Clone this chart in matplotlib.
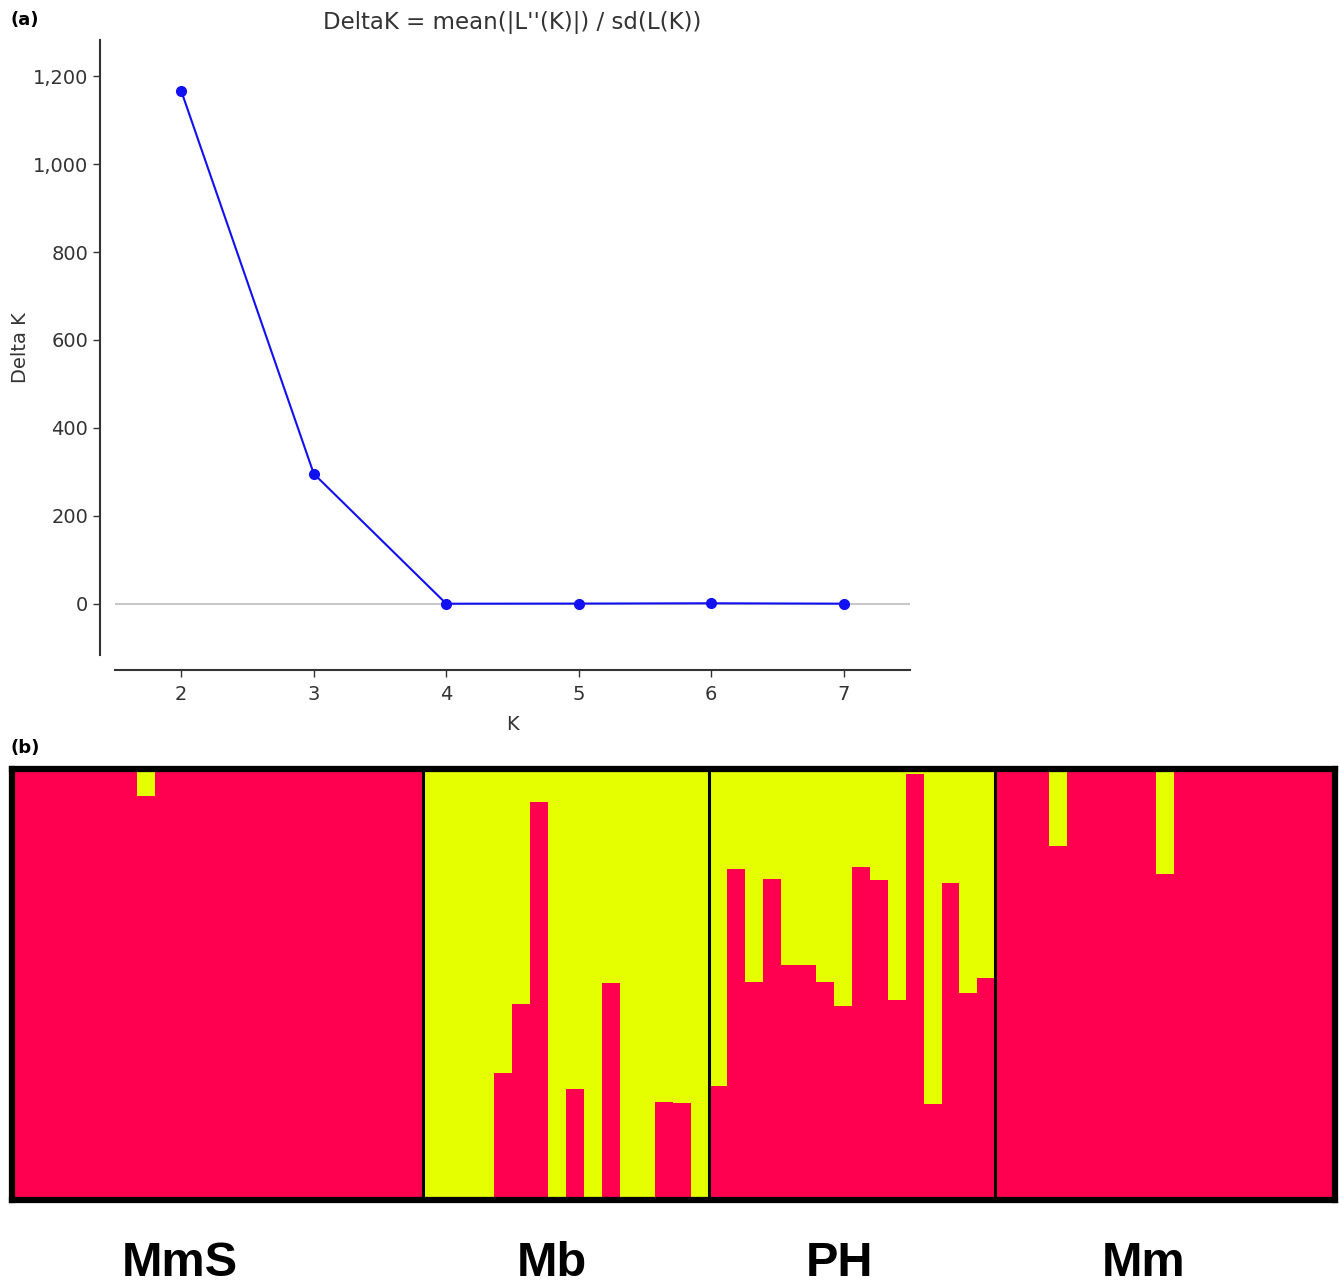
#!/usr/bin/env python3
"""DeltaK (Evanno) plot + STRUCTURE bar plot for K=2"""

import matplotlib
matplotlib.use("Agg")
import matplotlib.pyplot as plt
from matplotlib.ticker import FuncFormatter

# Panel (a) data
k_values = [2, 3, 4, 5, 6, 7]
delta_k = [1166, 296, 0.5, 0.8, 1.5, 0.6]

# Panel (b) data: fraction of membership in cluster 1 (red), per individual
groups = ["MmS", "Mb", "PH", "Mm"]
mms_red = [0.995, 0.997, 0.995, 0.996, 0.995, 0.996, 0.996, 0.937, 0.996, 0.996,
           0.996, 0.997, 0.996, 0.995, 0.996, 0.996, 0.996, 0.996, 0.996, 0.996,
           0.996, 0.996, 0.996]
mb_red = [0.003, 0.003, 0.005, 0.003, 0.296, 0.454, 0.923, 0.004,
          0.259, 0.003, 0.504, 0.003, 0.005, 0.228, 0.226, 0.004]
ph_red = [0.265, 0.767, 0.505, 0.745, 0.546, 0.546, 0.505, 0.450,
          0.771, 0.741, 0.464, 0.988, 0.223, 0.734, 0.480, 0.516]
mm_red = [0.996, 0.996, 0.996, 0.821, 0.996, 0.996, 0.996, 0.996, 0.996, 0.756,
          0.996, 0.997, 0.996, 0.996, 0.996, 0.996, 0.996, 0.996, 0.997]

RED = "#ff0050"
YELLOW = "#e5ff00"
GREY_TXT = "#333333"

fig = plt.figure(figsize=(13.39, 12.85), dpi=100)

# ---------------- (a) DeltaK ----------------
ax = fig.add_axes([0.0859, 0.4903, 0.5937, 0.4786])
ax.axhline(0, color="#c8c8c8", linewidth=1.5, zorder=1)
ax.plot(k_values, delta_k, color="#1010f0", linewidth=1.5, marker="o",
        markersize=7, zorder=3)
ax.set_xlim(1.5, 7.5)
ax.set_ylim(-116, 1282)
ax.set_xticks(k_values)
ax.set_yticks(range(0, 1201, 200))
ax.yaxis.set_major_formatter(FuncFormatter(lambda v, p: f"{int(v):,}"))

for side in ["top", "right"]:
    ax.spines[side].set_visible(False)
for side in ["left", "bottom"]:
    ax.spines[side].set_position(("outward", 10.8))
    ax.spines[side].set_color(GREY_TXT)
    ax.spines[side].set_linewidth(1.5)
ax.tick_params(colors=GREY_TXT, labelsize=14, length=5, width=1)
ax.tick_params(axis="x", pad=6)

ax.set_title("DeltaK = mean(|L''(K)|) / sd(L(K))", fontsize=16.5,
             color=GREY_TXT, pad=8)
ax.set_ylabel("Delta K", fontsize=14, color=GREY_TXT, labelpad=2)
ax.set_xlabel("K", fontsize=14, color=GREY_TXT, labelpad=8)

fig.text(10 / 1339, 1 - 20 / 1285, "(a)", fontsize=13, fontweight="bold",
         va="center", ha="left")
fig.text(10 / 1339, 1 - 748 / 1285, "(b)", fontsize=13, fontweight="bold",
         va="center", ha="left")

# ---------------- (b) STRUCTURE bars ----------------
axb = fig.add_axes([0.0086, 0.0658, 0.9884, 0.3361])
all_red = mms_red + mb_red + ph_red + mm_red
xs = list(range(len(all_red)))
axb.bar(xs, all_red, width=1.0, align="edge", color=RED, linewidth=0)
axb.bar(xs, [1 - r for r in all_red], bottom=all_red, width=1.0,
        align="edge", color=YELLOW, linewidth=0)
axb.set_xlim(0, len(all_red))
axb.set_ylim(0, 1)
axb.set_xticks([])
axb.set_yticks([])
for sp in axb.spines.values():
    sp.set_linewidth(4.5)
    sp.set_color("black")

sizes = [len(mms_red), len(mb_red), len(ph_red), len(mm_red)]
edges = [0]
for s in sizes:
    edges.append(edges[-1] + s)
for e in edges[1:-1]:
    axb.axvline(e, color="black", linewidth=2.2)

# group labels under the bars (slightly left of the group centre, as in the figure)
nudge = [2.1, 0.8, 0.7, 1.2]
for name, lo, hi, n in zip(groups, edges[:-1], edges[1:], nudge):
    axb.text((lo + hi) / 2 - n, -0.145, name, transform=axb.transData,
             ha="center", va="center", fontsize=35, fontweight="bold",
             family="Liberation Sans")

fig.savefig("out.png", dpi=100)
